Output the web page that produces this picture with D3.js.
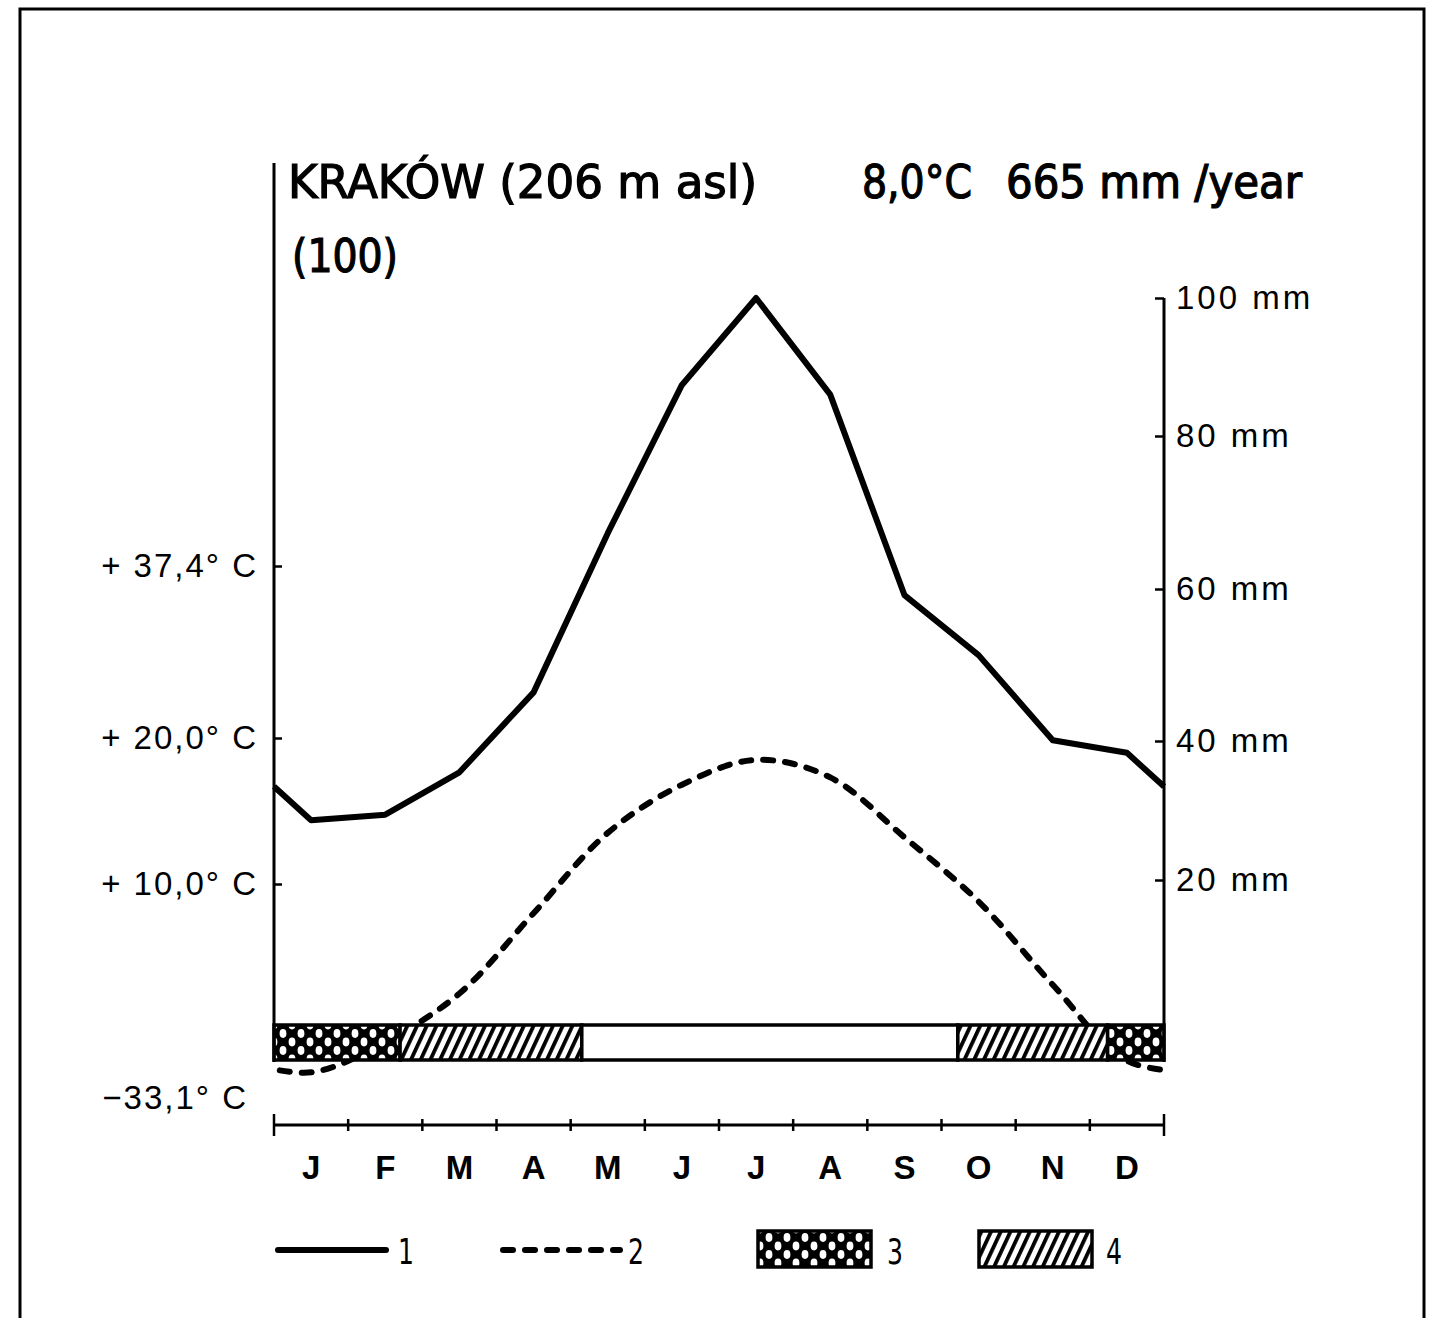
<!DOCTYPE html>
<html><head><meta charset="utf-8">
<script src="https://cdn.jsdelivr.net/npm/d3@7"></script>
<style>
html,body{margin:0;padding:0;background:#fff;}
svg{display:block;}
</style></head>
<body>
<script>
// ---- data ----
const months = ["J","F","M","A","M","J","J","A","S","O","N","D"];
const precip = [28.6, 29.4, 35.5, 46.4, 67.3, 87.4, 100, 86.0, 59.2, 51.3, 40.1, 38.3]; // mm
const temp = [-2.9, -0.8, 2.5, 8.0, 13.5, 16.8, 18.5, 17.3, 13.2, 8.8, 3.1, -2.1];     // °C
const mmTicks = [20, 40, 60, 80, 100];
const tempTicks = [10, 20, 37.4];
const tempTickLabels = ["+ 10,0° C", "+ 20,0° C", "+ 37,4° C"];
const tempAbsMin = -33.1;
const tempAbsMinLabel = "−33,1° C";
// frost bar: 3 = months with frost, 4 = months with probable frost, 0 = frost free
const barFrom = [0, 1.7, 4.15, 9.22, 11.24];
const barTo   = [1.7, 4.15, 9.22, 11.24, 12];
const barType = [3, 4, 0, 4, 3];
const titleLeft = "KRAKÓW (206 m asl)";
const titleRight1 = "8,0°C";
const titleRight2 = "665 mm /year";
const subTitle = "(100)";
const legendLabels = ["1", "2", "3", "4"];

// ---- layout ----
const W = 1430, H = 1318;
const svg = d3.select("body").append("svg").attr("width", W).attr("height", H);

const x = d3.scaleLinear().domain([0, 12]).range([274, 1164]);
const yP = d3.scaleLinear().domain([0, 20, 40, 60, 80, 100]).range([1020, 880, 741, 589, 436, 298]);
const yT = d3.scaleLinear().domain([0, 10, 20]).range([1030, 884, 738]);
const yTAxis = d3.scaleLinear().domain([tempAbsMin, 10, 20, 37.4]).range([1097, 884, 738, 566]);

const barTop = 1025, barBot = 1060;
const condensed = "'DejaVu Sans Condensed','DejaVu Sans','Liberation Sans',sans-serif";
const plain = "'Liberation Sans','DejaVu Sans',sans-serif";

// patterns
const defs = svg.append("defs");
const cross = defs.append("pattern").attr("id", "cross").attr("patternUnits", "userSpaceOnUse")
  .attr("width", 18).attr("height", 17).attr("x", 274).attr("y", barTop);
cross.append("rect").attr("width", 18).attr("height", 17).attr("fill", "#000");
[[0,0],[18,0],[9,8.5],[0,17],[18,17]].forEach(p => {
  cross.append("ellipse").attr("cx", p[0]).attr("cy", p[1]).attr("rx", 3.4).attr("ry", 4.4).attr("fill", "#fff");
});
const hatch = defs.append("pattern").attr("id", "hatch").attr("patternUnits", "userSpaceOnUse")
  .attr("width", 8.8).attr("height", 20).attr("patternTransform", "rotate(25)");
hatch.append("rect").attr("width", 8.8).attr("height", 20).attr("fill", "#fff");
hatch.append("rect").attr("x", 0).attr("width", 3.8).attr("height", 20).attr("fill", "#000");
defs.append("clipPath").attr("id", "plotclip").append("rect")
  .attr("x", x(0)).attr("y", 0).attr("width", x(12) - x(0)).attr("height", H);

// frame
svg.append("path").attr("d", `M20,${H+5}V9H1424V${H+5}`).attr("fill", "none")
  .attr("stroke", "#000").attr("stroke-width", 3);

// temperature (dashed, smooth)
const tPts = [[-0.5, temp[11]]].concat(temp.map((v, i) => [i + 0.5, v])).concat([[12.5, temp[0]]]);
svg.append("path").attr("clip-path", "url(#plotclip)")
  .attr("d", d3.line().x(d => x(d[0])).y(d => yT(d[1])).curve(d3.curveCatmullRom.alpha(0.5))(tPts))
  .attr("fill", "none").attr("stroke", "#000").attr("stroke-width", 6)
  .attr("stroke-dasharray", "10,12").attr("stroke-linecap", "round");

// precipitation (solid)
const pPts = [[0, (precip[11] + precip[0]) / 2]].concat(precip.map((v, i) => [i + 0.5, v])).concat([[12, (precip[11] + precip[0]) / 2]]);
svg.append("path")
  .attr("d", d3.line().x(d => x(d[0])).y(d => yP(d[1]))(pPts))
  .attr("fill", "none").attr("stroke", "#000").attr("stroke-width", 6).attr("stroke-linejoin", "round");

// frost bar
const fillFor = t => t === 3 ? "url(#cross)" : t === 4 ? "url(#hatch)" : "#fff";
svg.append("g").selectAll("rect").data(barType).join("rect")
  .attr("x", (d, i) => x(barFrom[i])).attr("width", (d, i) => x(barTo[i]) - x(barFrom[i]))
  .attr("y", barTop).attr("height", barBot - barTop)
  .attr("fill", d => fillFor(d)).attr("stroke", "#000").attr("stroke-width", 3.5);

// left axis
svg.append("line").attr("x1", x(0)).attr("x2", x(0)).attr("y1", 163).attr("y2", barBot + 2)
  .attr("stroke", "#000").attr("stroke-width", 3);
const la = svg.append("g").attr("transform", `translate(${x(0)},0)`)
  .call(d3.axisLeft(yTAxis).tickValues(tempTicks).tickSize(-8).tickPadding(16)
    .tickFormat((d, i) => tempTickLabels[i]));
la.select(".domain").remove();
la.selectAll("line").attr("stroke-width", 2.5);
la.selectAll("text").attr("font-family", plain).attr("font-size", 33).attr("letter-spacing", 2).attr("fill", "#000");
svg.append("text").attr("x", 248).attr("y", yTAxis(tempAbsMin)).attr("dy", "0.35em")
  .attr("text-anchor", "end").attr("font-family", plain).attr("font-size", 33).attr("letter-spacing", 2)
  .text(tempAbsMinLabel);

// right axis
svg.append("line").attr("x1", x(12)).attr("x2", x(12)).attr("y1", yP(100)).attr("y2", barBot + 2)
  .attr("stroke", "#000").attr("stroke-width", 3);
const ra = svg.append("g").attr("transform", `translate(${x(12)},0)`)
  .call(d3.axisRight(yP).tickValues(mmTicks).tickSize(-9).tickPadding(12)
    .tickFormat(d => d + " mm"));
ra.select(".domain").remove();
ra.selectAll("line").attr("stroke-width", 2.5);
ra.selectAll("text").attr("font-family", plain).attr("font-size", 33).attr("letter-spacing", 3).attr("fill", "#000");

// x axis
const xAxisY = 1125;
svg.append("line").attr("x1", x(0)).attr("x2", x(12)).attr("y1", xAxisY).attr("y2", xAxisY)
  .attr("stroke", "#000").attr("stroke-width", 3);
svg.append("g").selectAll("line").data(d3.range(13)).join("line")
  .attr("x1", d => x(d)).attr("x2", d => x(d))
  .attr("y1", d => (d === 0 || d === 12) ? xAxisY - 11 : xAxisY - 6)
  .attr("y2", d => (d === 0 || d === 12) ? xAxisY + 11 : xAxisY + 6)
  .attr("stroke", "#000").attr("stroke-width", 2.5);
svg.append("g").selectAll("text").data(months).join("text")
  .attr("x", (d, i) => x(i + 0.5)).attr("y", 1179).attr("text-anchor", "middle")
  .attr("font-family", plain).attr("font-weight", "bold").attr("font-size", 33).text(d => d);

// titles
function fitText(t, x0, y0, len, size) {
  svg.append("text").attr("x", x0).attr("y", y0).attr("font-family", condensed)
    .attr("font-size", size).attr("textLength", len).attr("lengthAdjust", "spacingAndGlyphs")
    .attr("stroke", "#000").attr("stroke-width", 1.2).text(t);
}
fitText(titleLeft, 288, 198, 469, 47);
fitText(titleRight1, 862, 198, 110, 47);
fitText(titleRight2, 1006, 198, 296, 47);
fitText(subTitle, 292, 272, 106, 47);

// legend
const ly = 1250;
svg.append("line").attr("x1", 278).attr("x2", 386).attr("y1", ly).attr("y2", ly)
  .attr("stroke", "#000").attr("stroke-width", 6).attr("stroke-linecap", "round");
svg.append("line").attr("x1", 503).attr("x2", 620).attr("y1", ly).attr("y2", ly)
  .attr("stroke", "#000").attr("stroke-width", 6).attr("stroke-dasharray", "10,12").attr("stroke-linecap", "round");
svg.append("rect").attr("x", 758).attr("y", 1231).attr("width", 113).attr("height", 36)
  .attr("fill", "url(#cross)").attr("stroke", "#000").attr("stroke-width", 3.5);
svg.append("rect").attr("x", 979).attr("y", 1231).attr("width", 113).attr("height", 36)
  .attr("fill", "url(#hatch)").attr("stroke", "#000").attr("stroke-width", 3.5);
const lx = [398, 628, 887, 1106];
legendLabels.forEach((t, i) => {
  svg.append("text").attr("x", lx[i]).attr("y", 1264).attr("font-family", condensed)
    .attr("font-size", 36).attr("textLength", 16).attr("lengthAdjust", "spacingAndGlyphs").text(t);
});
</script>
</body></html>
